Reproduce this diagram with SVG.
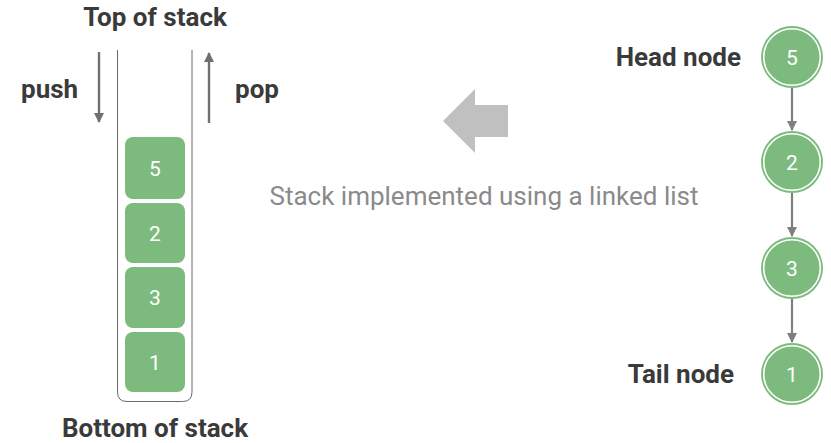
<svg xmlns="http://www.w3.org/2000/svg" width="831" height="443" viewBox="0 0 831 443">
<defs>
<style>
.lbl{font-family:Roboto,"Liberation Sans",sans-serif;font-weight:bold;font-size:26px;fill:#3a3a3a}
.num{font-family:Roboto,"Liberation Sans",sans-serif;font-size:21px;fill:#ffffff;text-anchor:middle}
.box{fill:#7dba7e}
.ring{fill:none;stroke:#ffffff;stroke-width:1.6}
.conn{stroke:#7f7f7f;stroke-width:2.2;fill:none}
.op{stroke:#746f6f;stroke-width:2.4;fill:none}
</style>
<marker id="ah" viewBox="0 0 10 10" refX="9" refY="5" markerWidth="12" markerHeight="10" orient="auto" markerUnits="userSpaceOnUse">
<path d="M0,0 L10,5 L0,10 z" fill="#7f7f7f"/>
</marker>
<marker id="ah2" viewBox="0 0 10 10" refX="9" refY="5" markerWidth="13" markerHeight="10" orient="auto" markerUnits="userSpaceOnUse">
<path d="M0,0 L10,5 L0,10 z" fill="#746f6f"/>
</marker>
</defs>
<rect width="831" height="443" fill="#ffffff"/>

<g id="stack">
<path d="M117.5,50 V392 Q117.5,401.5 127,401.5 H182.5 Q192,401.5 192,392 V50" fill="#ffffff" stroke="#6a6a6a" stroke-width="1"/>
</g>
<g id="box5"><rect class="box" x="125" y="137" width="60" height="62" rx="8"/><text class="num" x="155" y="176">5</text></g>
<g id="box2"><rect class="box" x="125" y="203" width="60" height="60" rx="8"/><text class="num" x="155" y="241">2</text></g>
<g id="box3"><rect class="box" x="125" y="267" width="60" height="61" rx="8"/><text class="num" x="155" y="305">3</text></g>
<g id="box1"><rect class="box" x="125" y="332" width="60" height="60" rx="8"/><text class="num" x="155" y="370">1</text></g>

<text class="lbl" x="155" y="26" text-anchor="middle">Top of stack</text>
<text class="lbl" x="155" y="437" text-anchor="middle">Bottom of stack</text>
<text class="lbl" x="21" y="98">push</text>
<text class="lbl" x="235" y="98">pop</text>

<g id="ops">
<line class="op" x1="99" y1="52" x2="99" y2="122" marker-end="url(#ah2)"/>
<line class="op" x1="209" y1="123" x2="209" y2="53" marker-end="url(#ah2)"/>
</g>

<polygon points="443,121 475,89 475,105 508,105 508,137 475,137 475,153" fill="#c0c0c0"/>
<text x="484" y="205" text-anchor="middle" font-family="Roboto,'Liberation Sans',sans-serif" font-size="26" fill="#8a8a8a">Stack implemented using a linked list</text>

<text class="lbl" x="741" y="66" text-anchor="end">Head node</text>
<text class="lbl" x="734" y="383" text-anchor="end">Tail node</text>

<g id="connectors">
<line class="conn" x1="792" y1="88" x2="792" y2="130" marker-end="url(#ah)"/>
<line class="conn" x1="792" y1="193" x2="792" y2="236" marker-end="url(#ah)"/>
<line class="conn" x1="792" y1="299" x2="792" y2="342" marker-end="url(#ah)"/>
</g>

<g id="node5"><circle cx="792" cy="57" r="31" fill="#7dba7e"/><circle class="ring" cx="792" cy="57" r="28.3"/><text class="num" x="792" y="65">5</text></g>
<g id="node2"><circle cx="792" cy="162" r="31" fill="#7dba7e"/><circle class="ring" cx="792" cy="162" r="28.3"/><text class="num" x="792" y="170">2</text></g>
<g id="node3"><circle cx="792" cy="268" r="31" fill="#7dba7e"/><circle class="ring" cx="792" cy="268" r="28.3"/><text class="num" x="792" y="276">3</text></g>
<g id="node1"><circle cx="792" cy="374" r="31" fill="#7dba7e"/><circle class="ring" cx="792" cy="374" r="28.3"/><text class="num" x="792" y="382">1</text></g>
</svg>
